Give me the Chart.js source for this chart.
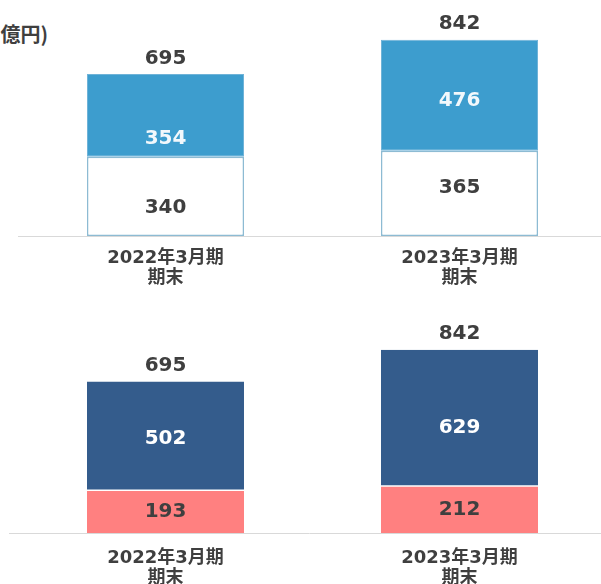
<!DOCTYPE html>
<html>
<head>
<meta charset="utf-8">
<script src="https://cdn.jsdelivr.net/npm/chart.js@4.4.1/dist/chart.umd.min.js"></script>
<style>
html,body{margin:0;padding:0;width:601px;height:584px;overflow:hidden;background:#fff;}
#wrap{position:relative;width:601px;height:584px;overflow:hidden;}
canvas{position:absolute;left:0;}
#unit{position:absolute;left:48px;top:19px;transform:translateX(-100%);white-space:nowrap;line-height:20px;
 font:bold 20px "Noto Sans CJK JP",sans-serif;color:#3f3f3f;}
</style>
</head>
<body>
<div id="wrap">
<div id="unit">(億円)</div>
<canvas id="c1" width="610" height="294" style="top:0"></canvas>
<canvas id="c2" width="610" height="289" style="top:295px"></canvas>
</div>
<script>
// ---- data ----
const categories = [['2022年3月期','期末'], ['2023年3月期','期末']];
const topLower = [340, 365];
const topUpper = [354, 476];
const topTotals = [695, 842];
const bottomLower = [193, 212];
const bottomUpper = [502, 629];
const bottomTotals = [695, 842];

const FONT = '"DejaVu Sans","Noto Sans CJK JP",sans-serif';
const DARK = '#3f3f3f';

const labelPlugin = {
  id: 'vlabels',
  beforeDatasetsDraw(chart, args, opts) {
    const ctx = chart.ctx;
    const y = Math.round(chart.scales.y.getPixelForValue(0)) + 0.5;
    ctx.save();
    ctx.strokeStyle = '#d9d9d9';
    ctx.lineWidth = 1;
    ctx.beginPath();
    ctx.moveTo(opts.lineStart, y);
    ctx.lineTo(chart.width, y);
    ctx.stroke();
    ctx.restore();
  },
  afterDatasetsDraw(chart, args, opts) {
    const ctx = chart.ctx;
    ctx.save();
    ctx.font = 'bold 20px ' + FONT;
    ctx.textAlign = 'center';
    ctx.textBaseline = 'middle';
    chart.data.datasets.forEach((ds, i) => {
      const meta = chart.getDatasetMeta(i);
      meta.data.forEach((el, j) => {
        ctx.fillStyle = ds.labelColor;
        const nudge = (ds.labelNudge && ds.labelNudge[j]) || 0;
        ctx.fillText(String(ds.data[j]), el.x, (el.y + el.base) / 2 + 1 + nudge);
      });
    });
    const last = chart.getDatasetMeta(chart.data.datasets.length - 1);
    opts.totals.forEach((t, j) => {
      const el = last.data[j];
      ctx.fillStyle = DARK;
      ctx.fillText(String(t), el.x, el.y - 15.5);
    });
    ctx.restore();
  }
};

function makeChart(id, lower, upper, totals, styles, pad, xHeight, lineStart, tickPad) {
  return new Chart(document.getElementById(id), {
    type: 'bar',
    data: {
      labels: categories,
      datasets: [
        Object.assign({ data: lower }, styles.lower),
        Object.assign({ data: upper }, styles.upper)
      ]
    },
    options: {
      responsive: false,
      animation: false,
      devicePixelRatio: 1,
      layout: { padding: pad },
      plugins: {
        legend: { display: false },
        tooltip: { enabled: false },
        vlabels: { totals: totals, lineStart: lineStart }
      },
      scales: {
        x: {
          stacked: true,
          grid: { display: false },
          border: { display: false },
          afterFit: (s) => { s.height = xHeight; },
          ticks: {
            color: DARK,
            padding: tickPad,
            maxRotation: 0,
            font: { family: FONT, size: 18, weight: 'bold', lineHeight: 1.14 }
          }
        },
        y: {
          stacked: true,
          display: false,
          min: 0,
          max: 900
        }
      }
    },
    plugins: [labelPlugin]
  });
}

makeChart('c1', topLower, topUpper, topTotals, {
  lower: { backgroundColor: '#ffffff', borderColor: '#8dbbd3', borderWidth: 1.5, borderSkipped: false,
           barPercentage: 0.534, categoryPercentage: 1, labelColor: DARK, labelNudge: [10, -7] },
  upper: { backgroundColor: '#3d9dce', borderColor: '#6fb3d8', borderWidth: 1, borderSkipped: false,
           barPercentage: 0.534, categoryPercentage: 1, labelColor: '#f2f8fc', labelNudge: [22, 4] }
}, { top: 26, left: 18.5, right: 3.5, bottom: 0 }, 58, 18, 4);

makeChart('c2', bottomLower, bottomUpper, bottomTotals, {
  lower: { backgroundColor: '#ff8080', borderWidth: 0,
           barPercentage: 0.534, categoryPercentage: 1, labelColor: DARK, labelNudge: [-1, -1] },
  upper: { backgroundColor: '#345c8c', borderColor: '#ffffff',
           borderWidth: { top: 0, left: 0, right: 0, bottom: 1.5 }, borderSkipped: false,
           barPercentage: 0.534, categoryPercentage: 1, labelColor: '#ffffff', labelNudge: [2, 9] }
}, { top: 41.8, left: 18.5, right: 3.5, bottom: 0 }, 51, 9, 7);
</script>
</body>
</html>
